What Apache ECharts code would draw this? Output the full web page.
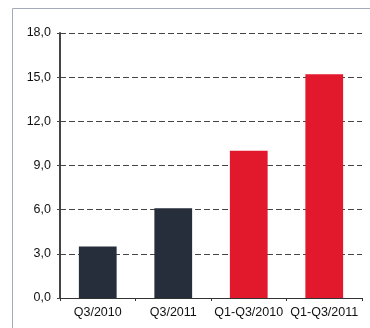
<!DOCTYPE html>
<html><head><meta charset="utf-8">
<script src="https://cdn.jsdelivr.net/npm/echarts@6/dist/echarts.min.js"></script>
<style>html,body{margin:0;padding:0;background:#fff}#c{width:370px;height:328px}</style>
</head><body><div id="c"></div>
<script>
const categories = ['Q3/2010', 'Q3/2011', 'Q1-Q3/2010', 'Q1-Q3/2011'];
const values = [3.5, 6.1, 10.0, 15.2];
const barColors = ['#262d3b', '#262d3b', '#e2192c', '#e2192c'];
const yTicks = { min: 0, max: 18, interval: 3 };

const chart = echarts.init(document.getElementById('c'), null, { renderer: 'canvas' });
chart.setOption({
  animation: false,
  graphic: [{
    type: 'rect', shape: { x: 12.5, y: 8.5, width: 400, height: 400 },
    style: { fill: 'none', stroke: '#a3aab8', lineWidth: 1 }, silent: true
  }],
  grid: { left: 60, right: 8, top: 33, bottom: 30, containLabel: false },
  xAxis: {
    type: 'category', data: categories,
    axisLine: { lineStyle: { color: '#333', width: 1 } },
    axisTick: { show: true, length: 3, lineStyle: { color: '#333' } },
    axisLabel: { interval: 0, color: '#111', fontFamily: 'Liberation Sans, Arial', fontSize: 12.5, margin: 8 }
  },
  yAxis: {
    type: 'value', min: yTicks.min, max: yTicks.max, interval: yTicks.interval,
    axisLine: { show: true, lineStyle: { color: '#444', width: 2 } },
    axisTick: { show: true, length: 3, lineStyle: { color: '#444' } },
    axisLabel: { color: '#111', fontFamily: 'Liberation Sans, Arial', fontSize: 12.5, margin: 9,
      formatter: v => v.toFixed(1).replace('.', ',') },
    splitLine: { show: true, lineStyle: { color: '#444', type: [6, 3], width: 1 } }
  },
  series: [{
    type: 'bar', barWidth: '50%',
    data: values.map((v, i) => ({ value: v, itemStyle: { color: barColors[i] } }))
  }]
});
</script></body></html>
